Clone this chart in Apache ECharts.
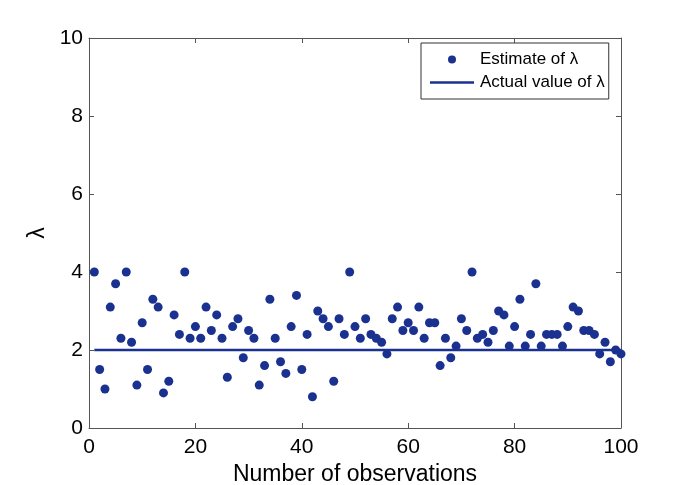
<!DOCTYPE html>
<html>
<head>
<meta charset="utf-8">
<script src="https://cdn.jsdelivr.net/npm/echarts@6/dist/echarts.min.js"></script>
<style>
html,body{margin:0;padding:0;background:#fff;}
#chart{width:685px;height:485px;}
</style>
</head>
<body>
<div id="chart"></div>
<script>
// Estimates of lambda for observations 1..100
var estimates = [
  4.0, 1.5, 1.0, 3.1, 3.7, 2.3, 4.0, 2.2, 1.1, 2.7,
  1.5, 3.3, 3.1, 0.9, 1.2, 2.9, 2.4, 4.0, 2.3, 2.6,
  2.3, 3.1, 2.5, 2.9, 2.3, 1.3, 2.6, 2.8, 1.8, 2.5,
  2.3, 1.1, 1.6, 3.3, 2.3, 1.7, 1.4, 2.6, 3.4, 1.5,
  2.4, 0.8, 3.0, 2.8, 2.6, 1.2, 2.8, 2.4, 4.0, 2.6,
  2.3, 2.8, 2.4, 2.3, 2.2, 1.9, 2.8, 3.1, 2.5, 2.7,
  2.5, 3.1, 2.3, 2.7, 2.7, 1.6, 2.3, 1.8, 2.1, 2.8,
  2.5, 4.0, 2.3, 2.4, 2.2, 2.5, 3.0, 2.9, 2.1, 2.6,
  3.3, 2.1, 2.4, 3.7, 2.1, 2.4, 2.4, 2.4, 2.1, 2.6,
  3.1, 3.0, 2.5, 2.5, 2.4, 1.9, 2.2, 1.7, 2.0, 1.9
];
var actualLambda = 2;
var firstObs = 1;
var lastObs = 100;
var xTicks = [0, 20, 40, 60, 80, 100];
var yTicks = [0, 2, 4, 6, 8, 10];

var color = '#1a3190';
var axisColor = '#555';
var font = 'Liberation Sans, Arial, Helvetica, sans-serif';

var scatterData = estimates.map(function (v, i) { return [firstObs + i, v]; });
var lineData = [[firstObs, actualLambda], [lastObs, actualLambda]];

function mkX(pos, show) {
  return {
    type: 'value', position: pos,
    min: xTicks[0], max: xTicks[xTicks.length - 1], interval: xTicks[1] - xTicks[0],
    name: show ? 'Number of observations' : '',
    nameLocation: 'middle', nameGap: 27,
    nameTextStyle: { fontSize: 23, color: '#000', fontFamily: font },
    axisLine: { show: true, onZero: false, lineStyle: { color: axisColor, width: 1 } },
    axisTick: { show: true, inside: true, length: 5, lineStyle: { color: axisColor } },
    axisLabel: { show: show, fontSize: 21, color: '#000', fontFamily: font, margin: 9 },
    splitLine: { show: false }
  };
}
function mkY(pos, show) {
  return {
    type: 'value', position: pos,
    min: yTicks[0], max: yTicks[yTicks.length - 1], interval: yTicks[1] - yTicks[0],
    name: show ? 'λ' : '',
    nameLocation: 'middle', nameGap: 38, nameRotate: 90,
    nameTextStyle: { fontSize: 23, color: '#000', fontFamily: font },
    axisLine: { show: true, onZero: false, lineStyle: { color: axisColor, width: 1 } },
    axisTick: { show: true, inside: true, length: 5, lineStyle: { color: axisColor } },
    axisLabel: { show: show, fontSize: 21, color: '#000', fontFamily: font, margin: 6 },
    splitLine: { show: false }
  };
}

var chart = echarts.init(document.getElementById('chart'), null, { renderer: 'canvas' });
chart.setOption({
  animation: false,
  backgroundColor: '#fff',
  grid: { left: 89, right: 64, top: 38, bottom: 57, containLabel: false, outerBoundsMode: 'none' },
  xAxis: [mkX('bottom', true), mkX('top', false)],
  yAxis: [mkY('left', true), mkY('right', false)],
  legend: {
    left: 421, top: 43,
    orient: 'vertical',
    backgroundColor: '#fff',
    borderColor: '#333', borderWidth: 1, borderRadius: 0,
    padding: [8, 4, 8, 9],
    itemWidth: 44, itemHeight: 8, itemGap: 6,
    textStyle: { fontSize: 17, color: '#000', fontFamily: font, padding: [0, 0, 0, 1] },
    data: [
      { name: 'Estimate of λ', icon: 'circle' },
      { name: 'Actual value of λ', icon: 'path://M0,0L44,0L44,2.6L0,2.6Z' }
    ]
  },
  series: [
    {
      name: 'Estimate of λ', type: 'scatter',
      symbol: 'circle', symbolSize: 9,
      itemStyle: { color: color, opacity: 1 },
      data: scatterData, z: 2
    },
    {
      name: 'Actual value of λ', type: 'line',
      symbol: 'none', showSymbol: false,
      lineStyle: { color: color, width: 2.6 },
      itemStyle: { color: color },
      data: lineData, z: 3
    }
  ]
});
</script>
</body>
</html>
